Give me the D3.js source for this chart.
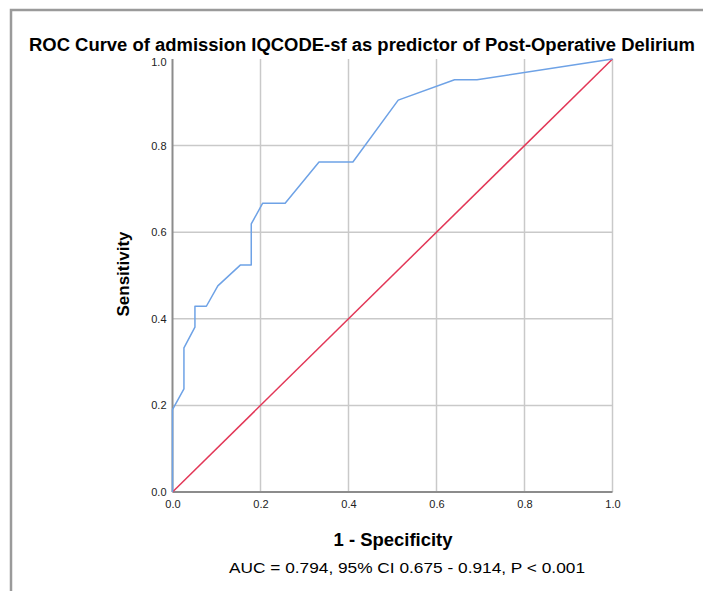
<!DOCTYPE html>
<html>
<head>
<meta charset="utf-8">
<script src="https://cdn.jsdelivr.net/npm/d3@7"></script>
<style>
  html, body { margin: 0; padding: 0; background: #fff; }
  svg { display: block; font-family: "Liberation Sans", Arial, Helvetica, sans-serif; }
</style>
</head>
<body>
<svg id="chart" width="703" height="591"></svg>
<script>
// ROC curve points (1 - specificity, sensitivity)
const fpr = [0, 0, 0.026, 0.026, 0.051, 0.051, 0.077, 0.103, 0.154, 0.179, 0.179, 0.205, 0.256, 0.333, 0.410, 0.513, 0.641, 0.692, 1.0];
const tpr = [0, 0.190, 0.238, 0.333, 0.381, 0.429, 0.429, 0.476, 0.524, 0.524, 0.619, 0.667, 0.667, 0.762, 0.762, 0.905, 0.952, 0.952, 1.0];
// Reference (chance) line
const refX = [0, 1];
const refY = [0, 1];
const tickValues = [0, 0.2, 0.4, 0.6, 0.8, 1.0];

const titleText = "ROC Curve of admission IQCODE-sf as predictor of Post-Operative Delirium";
const xTitle = "1 - Specificity";
const yTitle = "Sensitivity";
const noteText = "AUC = 0.794, 95% CI 0.675 - 0.914, P < 0.001";

const svg = d3.select("#chart");

const x = d3.scaleLinear().domain([0, 1]).range([172.5, 612.5]);
const y = d3.scaleLinear().domain([0, 1]).range([492, 59]);

// outer frame (top and left edges)
svg.append("path")
  .attr("d", "M11,591 V10 H703")
  .attr("fill", "none")
  .attr("stroke", "#9a9a9a")
  .attr("stroke-width", 2.5);

// grid lines
const grid = svg.append("g");
grid.selectAll(".vg").data(tickValues.filter(d => d > 0)).join("line")
  .attr("x1", d => x(d)).attr("x2", d => x(d))
  .attr("y1", y(0)).attr("y2", y(1))
  .attr("stroke", "#c9c9c9").attr("stroke-width", 1.5);
grid.selectAll(".hg").data(tickValues.filter(d => d > 0 && d < 1)).join("line")
  .attr("x1", x(0)).attr("x2", x(1))
  .attr("y1", d => y(d)).attr("y2", d => y(d))
  .attr("stroke", "#c9c9c9").attr("stroke-width", 1.5);

// axes
const fmt = d3.format(".1f");
const xAxis = svg.append("g")
  .attr("transform", `translate(0,${y(0)})`)
  .call(d3.axisBottom(x).tickValues(tickValues).tickFormat(fmt).tickSize(0).tickPadding(8));
const yAxis = svg.append("g")
  .attr("transform", `translate(${x(0)},0)`)
  .call(d3.axisLeft(y).tickValues(tickValues).tickFormat(fmt).tickSize(0).tickPadding(6));

[xAxis, yAxis].forEach(g => {
  g.select(".domain").attr("stroke", "#8c8c8c").attr("stroke-width", 2);
  g.selectAll("text").attr("font-size", 11).attr("fill", "#222")
    .attr("font-family", "'Liberation Sans', Arial, sans-serif");
});
xAxis.select(".domain").attr("d", `M${x(0)},0H${x(1)}`);
yAxis.select(".domain").attr("d", `M0,${y(0)}V${y(1)}`);
yAxis.selectAll("text").attr("dy", "0.32em");
// the top label sits just under the chart title
yAxis.selectAll(".tick").filter(d => d === 1).select("text").attr("dy", "0.55em");

// chance line
const line = d3.line().x(d => x(d[0])).y(d => y(d[1]));
svg.append("path")
  .datum(refX.map((d, i) => [d, refY[i]]))
  .attr("d", line)
  .attr("fill", "none")
  .attr("stroke", "#e23757")
  .attr("stroke-width", 1.5);

// ROC curve
svg.append("path")
  .datum(fpr.map((d, i) => [d, tpr[i]]))
  .attr("d", line)
  .attr("fill", "none")
  .attr("stroke", "#6ea2e6")
  .attr("stroke-width", 1.5)
  .attr("stroke-linejoin", "round");

// titles
svg.append("text")
  .attr("x", 362).attr("y", 51)
  .attr("text-anchor", "middle")
  .attr("font-size", 18).attr("font-weight", "bold")
  .attr("textLength", 666).attr("lengthAdjust", "spacingAndGlyphs")
  .text(titleText);

svg.append("text")
  .attr("x", 393).attr("y", 546)
  .attr("text-anchor", "middle")
  .attr("font-size", 18).attr("font-weight", "bold")
  .attr("textLength", 119).attr("lengthAdjust", "spacingAndGlyphs")
  .text(xTitle);

svg.append("text")
  .attr("transform", "translate(129,274) rotate(-90)")
  .attr("text-anchor", "middle")
  .attr("font-size", 17).attr("font-weight", "bold")
  .text(yTitle);

svg.append("text")
  .attr("x", 407).attr("y", 573)
  .attr("text-anchor", "middle")
  .attr("font-size", 15)
  .attr("textLength", 356).attr("lengthAdjust", "spacingAndGlyphs")
  .text(noteText);
</script>
</body>
</html>
